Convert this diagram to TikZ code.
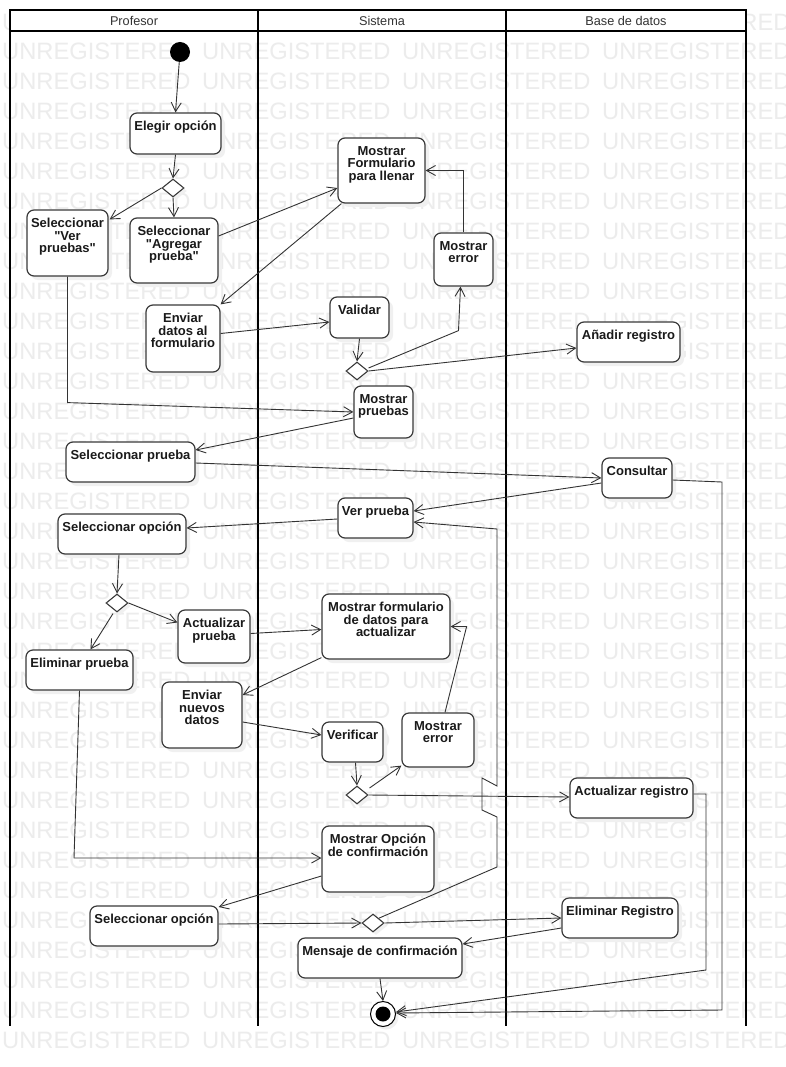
\documentclass[tikz,border=0pt]{standalone}
\usepackage{fontspec}
\setmainfont{Liberation Sans}
\usetikzlibrary{arrows.meta,shapes.geometric,calc,shadows}
\definecolor{boxc}{HTML}{3A3A3A}
\definecolor{linec}{HTML}{333333}
\definecolor{wmc}{HTML}{ECECEC}
\definecolor{txtc}{HTML}{1A1A1A}
\definecolor{shc}{HTML}{F0F0F0}
\newcommand\ActBox[6]{%
  \node[act, minimum width={#4pt-#2pt}, minimum height={#5pt-#3pt}] (#1) at ({(#2+#4)/2},{(#3+#5)/2}) {};
  \node[lbl, anchor=north] (#1-t) at ($(#1.north)+(0,8.5)$) {#6};
}
\newcommand\qq{\textquotedbl}
\begin{document}
\begin{tikzpicture}[x=1pt,y=-1pt,
  act/.style={draw=boxc, line width=1.2pt, rounded corners=7pt, fill=white, inner sep=0pt,
    drop shadow={fill=shc, opacity=1, shadow xshift=4pt, shadow yshift=-4pt}},
  lbl/.style={inner sep=0pt, align=center, text=txtc, font=\fontsize{13}{12.7}\selectfont\bfseries},
  dec/.style={diamond, draw=boxc, line width=1.1pt, fill=white, inner sep=0pt, minimum width=22pt, minimum height=18pt,
    drop shadow={fill=shc, opacity=1, shadow xshift=3pt, shadow yshift=-3pt}},
  initn/.style={circle, fill=black, inner sep=0pt, minimum size=20pt},
  finaln/.style={circle, draw=black, line width=1pt, fill=white, inner sep=0pt, minimum size=25pt,
    drop shadow={fill=shc, opacity=1, shadow xshift=3pt, shadow yshift=-3pt}},
  arr/.style={draw=linec, line width=0.9pt, -{Straight Barb[length=9pt,width=10pt,line width=0.9pt]}},
  lanel/.style={draw=black, line width=2pt},
  hdr/.style={inner sep=0pt, text=black!80, font=\fontsize{12.7}{14}\selectfont},
  wm/.style={inner sep=0pt, anchor=base west, text=wmc, font=\fontsize{23.7}{24}\selectfont}
]
\useasboundingbox (0,0) rectangle (786,1067);
\fill[white] (0,0) rectangle (786,1067);
% watermark
\foreach \k in {-1,...,33} {
  \foreach \i in {0,...,3} {
    \node[wm] (wm-\k-\i) at ({2+200*\i},{60+29.95*\k}) {UNREGISTERED};
  }
}
% swimlanes
\fill[white] (10,10) rectangle (746,31);
\draw[lanel, line cap=rect] (10,10) -- (746,10);
\draw[lanel, line width=1.7pt] (10,31) -- (746,31);
\foreach \x in {10,258,506,746} { \draw[lanel] (\x,10) -- (\x,1026); }
\node[hdr] (hP) at (134,20.5) {Profesor};
\node[hdr] (hS) at (382,20.5) {Sistema};
\node[hdr] (hB) at (626,20.5) {Base de datos};

% activities
\ActBox{elegir}{130}{113}{221}{154}{Elegir opción}
\ActBox{verp}{27}{210}{108}{276}{Seleccionar\\\qq Ver\\pruebas\qq}
\ActBox{agreg}{130}{218}{218}{283}{Seleccionar\\\qq Agregar\\prueba\qq}
\ActBox{mform}{338}{138}{425}{203}{Mostrar\\Formulario\\para llenar}
\ActBox{errA}{434}{233}{493}{286}{Mostrar\\error}
\ActBox{envd}{146}{305}{220}{372}{Enviar\\datos al\\formulario}
\ActBox{valid}{330}{297}{389}{338}{Validar}
\ActBox{anad}{577}{322}{680}{362}{Añadir registro}
\ActBox{mpru}{354}{386}{413}{438}{Mostrar\\pruebas}
\ActBox{selp}{66}{442}{195}{482}{Seleccionar prueba}
\ActBox{cons}{602}{458}{672}{498}{Consultar}
\ActBox{verpr}{338}{498}{413}{538}{Ver prueba}
\ActBox{seloA}{58}{514}{186}{554}{Seleccionar opción}
\ActBox{actp}{178}{610}{250}{663}{Actualizar\\prueba}
\ActBox{elip}{26}{650}{133}{690}{Eliminar prueba}
\ActBox{mfda}{322}{594}{450}{659}{Mostrar formulario\\de datos para\\actualizar}
\ActBox{envn}{162}{682}{242}{748}{Enviar\\nuevos\\datos}
\ActBox{verif}{322}{722}{383}{762}{Verificar}
\ActBox{errB}{402}{713}{474}{767}{Mostrar\\error}
\ActBox{actr}{570}{778}{693}{818}{Actualizar registro}
\ActBox{mopc}{322}{826}{434}{892}{Mostrar Opción\\de confirmación}
\ActBox{seloB}{90}{906}{218}{946}{Seleccionar opción}
\ActBox{elir}{562}{898}{678}{938}{Eliminar Registro}
\ActBox{mens}{298}{938}{462}{978}{Mensaje de confirmación}

% decisions, start, end
\node[dec] (dA) at (173,188) {};
\node[dec] (dB) at (357,371) {};
\node[dec] (dC) at (117,603) {};
\node[dec] (dD) at (357,795) {};
\node[dec] (dE) at (373,923) {};
\node[initn] (init) at (180,52) {};
\node[finaln] (fin) at (383,1014) {};
\fill[black] (fin.center) circle (7.5);

% bend points
\coordinate (kA) at ($(errA.south)+(-5,44)$);
\coordinate (kB) at ($(verp.south)+(0,126)$);
\coordinate (kC) at (722,482);
\coordinate (kD) at (722,1010);
\coordinate (kE) at ($(mfda.east)+(16,0)$);
\coordinate (kF) at (706,794);
\coordinate (kG) at (706,970);
\coordinate (kH) at (74,858);
\coordinate (kI) at (497,867);
\coordinate (kJ) at (497,817);
\coordinate (kK) at (482,810);
\coordinate (kL) at (482,778);
\coordinate (kM) at (497,786);
\coordinate (kN) at (497,529);

% connectors
\draw[arr] (init) -- (elegir.north);
\draw[arr] (elegir.south) -- (dA.north);
\draw[arr] (dA.south) -- (agreg.north);
\draw[arr] (dA.west) -- ($(verp.north east)+(1,10)$);
\draw[arr] ($(agreg.east)+(0,-14.5)$) -- ($(mform.west)+(0,17.5)$);
\draw[arr] ($(mform.south west)+(4,0)$) -- (envd.north east);
\draw[arr] (errA.north) |- (mform.east);
\draw[arr] ($(envd.east)+(0,-5)$) -- ($(valid.west)+(0,4.5)$);
\draw[arr] (valid.south) -- (dB.north);
\draw[arr] ($(dB.east)+(0,-3)$) -- (kA) -- ($(errA.south)+(-3,0)$);
\draw[arr] (dB.east) -- ($(anad.west)+(0,6)$);
\draw[arr] (verp.south) -- (kB) -- (mpru.west);
\draw[arr] ($(mpru.west)+(0,6)$) -- ($(selp.east)+(0,-12)$);
\draw[arr] ($(selp.east)+(0,1)$) -- (cons.west);
\draw[arr] ($(cons.west)+(0,5)$) -- ($(verpr.east)+(0,-7)$);
\draw[arr] ($(cons.east)+(0,2)$) -- (kC) -- (kD) -- ($(fin.east)+(0,-1)$);
\draw[arr] ($(verpr.west)+(0,1)$) -- ($(seloA.east)+(0,-6)$);
\draw[arr] ($(seloA.south)+(-3,0)$) -- (dC.north);
\draw[arr] (dC.east) -- ($(actp.west)+(0,-14)$);
\draw[arr] ($(dC.south)+(-4,1)$) -- ($(elip.north)+(11,0)$);
\draw[arr] ($(actp.east)+(0,-3)$) -- ($(mfda.west)+(0,3)$);
\draw[arr] ($(mfda.south west)+(0,-2)$) -- ($(envn.east)+(0,-20)$);
\draw[arr] ($(envn.east)+(0,7)$) -- ($(verif.west)+(0,-7)$);
\draw[arr] ($(verif.south)+(3,0)$) -- (dD.north);
\draw[arr] ($(dD.east)+(1,-7)$) -- ($(errB.south west)+(0,-2)$);
\draw[arr] (dD.east) -- ($(actr.west)+(0,-1)$);
\draw[arr] ($(errB.north)+(7,0)$) -- (kE) -- (mfda.east);
\draw[arr] ($(actr.east)+(0,-4)$) -- (kF) -- (kG) -- ($(fin.east)+(0,-2)$);
\draw[arr] (elip.south) -- (kH) -- ($(mopc.west)+(0,-1)$);
\draw[arr] ($(mopc.west)+(0,17)$) -- ($(seloB.east)+(0,-19)$);
\draw[arr] ($(seloB.east)+(0,-2)$) -- (dE.west);
\draw[arr] (dE.north east) -- (kI) -- (kJ) -- (kK) -- (kL) -- (kM) -- (kN) -- ($(verpr.east)+(0,4)$);
\draw[arr] (dE.east) -- (elir.west);
\draw[arr] ($(elir.west)+(0,10)$) -- ($(mens.east)+(0,-14)$);
\draw[arr] (mens.south) -- (fin.north);
\end{tikzpicture}
\end{document}
